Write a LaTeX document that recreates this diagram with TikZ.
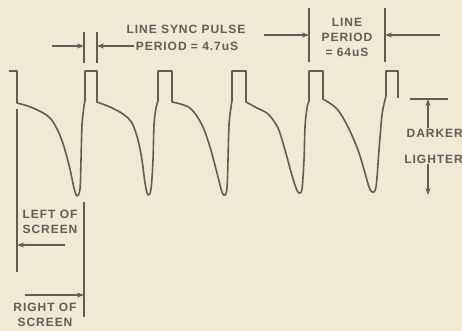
\documentclass[tikz,border=0pt]{standalone}
\usepackage{fontspec}
\setmainfont{Liberation Sans}
\newfontfamily\lblfont[LetterSpace=8]{Liberation Sans}
\usetikzlibrary{arrows.meta}
\definecolor{ink}{RGB}{100,92,84}
\definecolor{paper}{RGB}{243,232,212}

\begin{document}
\begin{tikzpicture}[x=1pt, y=-1pt, >={Stealth[length=7pt,width=5pt]},
  wave/.style={ink, line width=1.6pt, line join=round},
  dimline/.style={ink, line width=1.1pt},
  lbl/.style={ink, font=\lblfont\bfseries\fontsize{12}{15}\selectfont, align=center, inner sep=0pt}]
  % fond
  \fill[paper] (0,0) rectangle (462,331);
  \useasboundingbox (0,0) rectangle (462,331);
  % signal video
  \draw[wave] (9,71) -- (17,71) -- (17,103)
    -- plot[smooth, tension=0.55] coordinates {(17,103) (33,108) (50,118) (61,138) (69,165) (74,188) (77,196) (80,189) (81,160) (82,125) (84,106) (85,101)}
    -- (85,71) -- (97,71) -- (97,102)
    -- plot[smooth, tension=0.55] coordinates {(97,102) (110,107) (123,114) (132,123) (138,140) (142,160) (145,183) (148,195) (151,189) (153,160) (154,125) (156,108) (158,101)}
    -- (158,71) -- (172,71) -- (172,102)
    -- plot[smooth, tension=0.55] coordinates {(172,102) (190,108) (202,125) (210,147) (217,173) (222,192) (225,195) (227,188) (228,160) (229,125) (231,107) (232,101)}
    -- (232,71) -- (246,71) -- (246,102)
    -- plot[smooth, tension=0.55] coordinates {(246,102) (257,108) (268,114) (278,128) (285,150) (291,172) (296,188) (299,193) (302,189) (304,160) (305,127) (307,108) (309,101)}
    -- (309,71) -- (323,71) -- (323,99)
    -- plot[smooth, tension=0.55] coordinates {(323,99) (337,109) (348,127) (358,150) (365,173) (369,187) (372,192) (376,187) (379,150) (382,115) (385,100) (386,96)}
    -- (386,71) -- (398,71) -- (398,98);
  % impulsion de synchro
  \coordinate (s1t) at (84,32);  \coordinate (s1b) at (84,63);
  \coordinate (s2t) at (97,32);  \coordinate (s2b) at (97,63);
  \draw[dimline] (s1t) -- (s1b);
  \draw[dimline] (s2t) -- (s2b);
  \node[lbl] (sync1) at (186,29) {LINE SYNC PULSE};
  \node[lbl] (sync2) at (187,46) {PERIOD = 4.7uS};
  \coordinate (sa) at (52,46);
  \draw[dimline, ->] (sa) -- (s1t |- sa);
  \draw[dimline, ->] ([xshift=-2pt]sync2.west) -- (s2t |- sync2.west);
  % periode ligne
  \coordinate (p1t) at (309,8);  \coordinate (p1b) at (309,62);
  \coordinate (p2t) at (385,8);  \coordinate (p2b) at (385,62);
  \draw[dimline] (p1t) -- (p1b);
  \draw[dimline] (p2t) -- (p2b);
  \node[lbl] (per) at (347,37) {LINE\\PERIOD\\= 64uS};
  \coordinate (pa) at (264,35);
  \coordinate (pb) at (440,35);
  \draw[dimline, ->] (pa) -- (p1t |- pa);
  \draw[dimline, ->] (pb) -- (p2t |- pb);
  % plus sombre / plus clair
  \coordinate (dk1) at (410,99); \coordinate (dk2) at (448,99);
  \draw[dimline] (dk1) -- (dk2);
  \node[lbl, anchor=east] (dark) at (463,133) {DARKER};
  \node[lbl, anchor=east] (light) at (463,159) {LIGHTER};
  \coordinate (lt) at (428,195);
  \draw[dimline, ->] (dark.north -| dk1) ++(18,-1) coordinate (da) -- (da |- dk1);
  \draw[dimline, ->] (light.south -| lt) ++(0,1) coordinate (la) -- (lt);
  % gauche / droite de l'ecran
  \coordinate (l1t) at (17,109); \coordinate (l1b) at (17,272);
  \coordinate (l2t) at (84,202); \coordinate (l2b) at (84,317);
  \draw[dimline] (l1t) -- (l1b);
  \draw[dimline] (l2t) -- (l2b);
  \node[lbl] (left) at (50,222) {LEFT OF\\SCREEN};
  \node[lbl] (right) at (45,315) {RIGHT OF\\SCREEN};
  \coordinate (la1) at (65,245);
  \coordinate (ra1) at (25,295);
  \draw[dimline, ->] (la1) -- (l1t |- la1);
  \draw[dimline, ->] (ra1) -- (l2t |- ra1);
\end{tikzpicture}
\end{document}
